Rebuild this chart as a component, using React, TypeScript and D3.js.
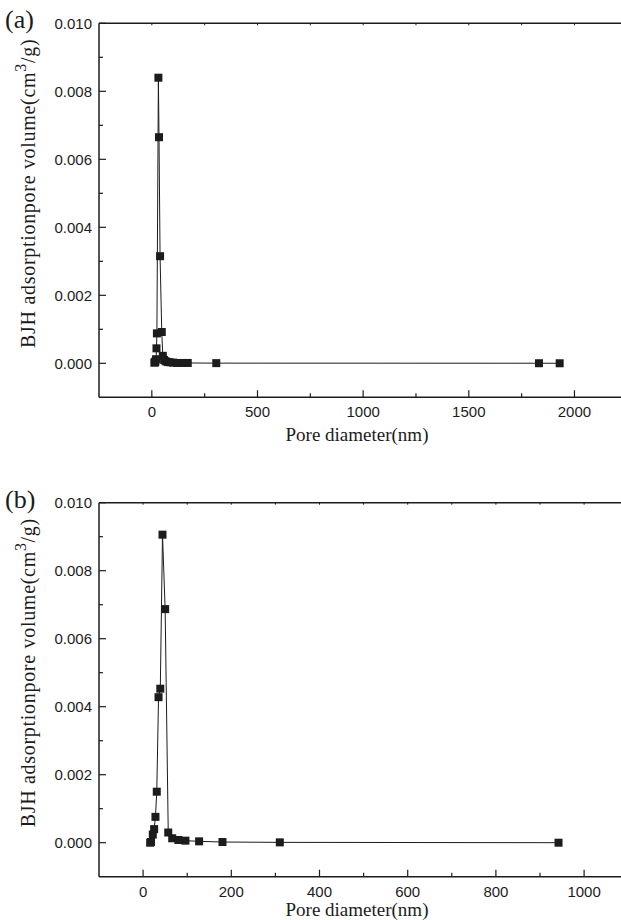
import React from "react";
import * as d3 from "d3";

// Panel (a): BJH pore size distribution
const diameterA = [12, 15, 17, 20, 22, 24, 31, 34, 39, 47, 52, 58, 65, 75, 85, 100, 120, 145, 170, 305, 1832, 1930];
const volumeA = [0.00002, 0.00003, 0.00005, 0.00012, 0.00044, 0.00088, 0.0084, 0.00665, 0.00315, 0.00092, 0.00022, 0.0001, 0.00006, 0.00004, 0.00003, 0.00002, 0.00001, 0.00001, 0.00001, 0.000005, 0.000002, 0.000001];

// Panel (b): BJH pore size distribution
const diameterB = [16, 18, 22, 25, 28, 31, 35, 39, 44, 50, 57, 66, 80, 96, 127, 180, 310, 942];
const volumeB = [0.0, 0.00002, 0.00024, 0.0004, 0.00076, 0.0015, 0.00428, 0.00453, 0.00906, 0.00687, 0.0003, 0.00013, 0.00008, 0.00006, 0.00004, 0.00002, 0.00001, 0.0];

const yMajorTicks = [0, 0.002, 0.004, 0.006, 0.008, 0.01];
const yMinorTicks = [0.001, 0.003, 0.005, 0.007, 0.009];
const xMajorTicksA = [0, 500, 1000, 1500, 2000];
const xMinorTicksA = [250, 750, 1250, 1750, 2250];
const xMajorTicksB = [0, 200, 400, 600, 800, 1000];
const xMinorTicksB = [100, 300, 500, 700, 900];

const SERIF = "'Liberation Serif', 'Times New Roman', serif";
const SANS = "'Liberation Sans', Arial, sans-serif";
const INK = "#1c1c1c";

type PanelProps = {
  tag: string;
  xs: number[];
  ys: number[];
  xDomain: [number, number];
  xRange: [number, number];
  yRange: [number, number];
  xMajor: number[];
  xMinor: number[];
  titleGap: number;
};

function Panel({ tag, xs, ys, xDomain, xRange, yRange, xMajor, xMinor, titleGap }: PanelProps) {
  const x = d3.scaleLinear().domain(xDomain).range(xRange);
  const y = d3.scaleLinear().domain([-0.001, 0.01]).range(yRange);
  const pts = xs.map((d, i) => [d, ys[i]] as [number, number]);
  const line = d3
    .line<[number, number]>()
    .x((d) => x(d[0]))
    .y((d) => y(d[1]));

  const left = xRange[0];
  const right = xRange[1];
  const top = yRange[1];
  const bottom = yRange[0];
  const yCenter = (top + bottom) / 2 - 17;
  const fmt = d3.format(".3f");

  return (
    <g>
      {/* frame: left, bottom, top */}
      <line x1={left} x2={left} y1={top} y2={bottom} stroke={INK} strokeWidth={1.5} />
      <line x1={left} x2={right} y1={bottom} y2={bottom} stroke={INK} strokeWidth={1.5} />
      <line x1={left} x2={right} y1={top} y2={top} stroke={INK} strokeWidth={1.5} />

      {/* y ticks */}
      {yMajorTicks.map((t) => (
        <g key={"ym" + t}>
          <line x1={left} x2={left + 7} y1={y(t)} y2={y(t)} stroke={INK} strokeWidth={1.2} />
          <text x={left - 7} y={y(t)} dy="0.36em" textAnchor="end" fontFamily={SANS} fontSize={15} fill={INK}>
            {fmt(t)}
          </text>
        </g>
      ))}
      {yMinorTicks.map((t) => (
        <line key={"yn" + t} x1={left} x2={left + 4} y1={y(t)} y2={y(t)} stroke={INK} strokeWidth={1.2} />
      ))}

      {/* x ticks */}
      {xMajor.map((t) => (
        <g key={"xm" + t}>
          <line x1={x(t)} x2={x(t)} y1={bottom} y2={bottom - 7} stroke={INK} strokeWidth={1.2} />
          <line x1={x(t)} x2={x(t)} y1={top} y2={top + 2} stroke={INK} strokeWidth={1} />
          <text x={x(t)} y={bottom + 20} textAnchor="middle" fontFamily={SANS} fontSize={15} fill={INK}>
            {t}
          </text>
        </g>
      ))}
      {xMinor.map((t) => (
        <g key={"xn" + t}>
          <line x1={x(t)} x2={x(t)} y1={bottom} y2={bottom - 4} stroke={INK} strokeWidth={1.2} />
          <line x1={x(t)} x2={x(t)} y1={top} y2={top + 2} stroke={INK} strokeWidth={1} />
        </g>
      ))}

      {/* series */}
      <path d={line(pts) ?? ""} fill="none" stroke={INK} strokeWidth={1} />
      {pts.map((p, i) => (
        <rect key={i} x={x(p[0]) - 4} y={y(p[1]) - 4} width={8} height={8} fill={INK} />
      ))}

      {/* titles */}
      <text x={357} y={bottom + titleGap} textAnchor="middle" fontFamily={SERIF} fontSize={19} fill={INK}>
        Pore diameter(nm)
      </text>
      <text
        transform={`translate(35,${yCenter}) rotate(-90)`}
        textAnchor="middle"
        fontFamily={SERIF}
        fontSize={20}
        letterSpacing={0.7}
        fill={INK}
      >
        BJH adsorptionpore volume(cm
        <tspan dy={-9} fontSize={16}>3</tspan>
        <tspan dy={9}>/g)</tspan>
      </text>
      <text x={5} y={top + 5} fontFamily={SERIF} fontSize={26} fill={INK}>
        {tag}
      </text>
    </g>
  );
}

export default function App() {
  return (
    <svg
      width={621}
      height={920}
      style={{ position: "absolute", left: 0, top: 0, background: "#fff" }}
    >
      <rect width={621} height={920} fill="#fff" />
      <Panel
        tag="(a)"
        xs={diameterA}
        ys={volumeA}
        xDomain={[-250, 2250]}
        xRange={[99, 627.3]}
        yRange={[397.3, 23.3]}
        xMajor={xMajorTicksA}
        xMinor={xMinorTicksA}
        titleGap={44}
      />
      <Panel
        tag="(b)"
        xs={diameterB}
        ys={volumeB}
        xDomain={[-100, 1100]}
        xRange={[99, 628.2]}
        yRange={[876.7, 502.7]}
        xMajor={xMajorTicksB}
        xMinor={xMinorTicksB}
        titleGap={39}
      />
    </svg>
  );
}
